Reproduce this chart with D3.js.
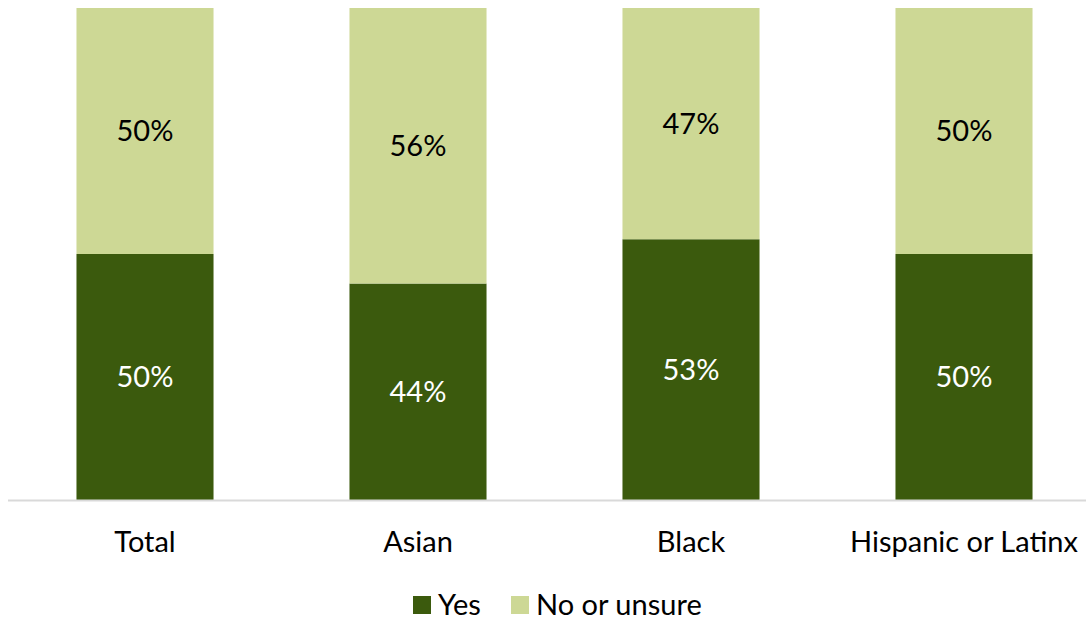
<!DOCTYPE html>
<html>
<head>
<meta charset="utf-8">
<script src="https://cdn.jsdelivr.net/npm/d3@7"></script>
<style>
  html, body { margin: 0; padding: 0; background: #fff; }
  svg text { font-family: Lato, "Open Sans", "Liberation Sans", sans-serif; }
</style>
</head>
<body>
<svg id="chart" width="1086" height="620"></svg>
<script>
// Survey responses by group (percent)
const categories = ["Total", "Asian", "Black", "Hispanic or Latinx"];
const yesValues = [50, 44, 53, 50];
const noValues = [50, 56, 47, 50];
const seriesNames = ["Yes", "No or unsure"];
const seriesColors = ["#3b5a0d", "#cdd895"];

const svg = d3.select("#chart");
const width = 1086;
const fontSize = 29;

const x = d3.scaleBand()
  .domain(categories)
  .range([8.5, 1100.5])
  .paddingInner(0.498)
  .paddingOuter(0.249);

const y = d3.scaleLinear().domain([0, 100]).range([500, 8]);

const rows = categories.map((c, i) => ({ cat: c, Yes: yesValues[i], "No or unsure": noValues[i] }));
const stacked = d3.stack().keys(seriesNames)(rows);

const layers = svg.selectAll("g.layer")
  .data(stacked)
  .join("g")
  .attr("class", "layer")
  .attr("fill", (d, i) => seriesColors[i]);

layers.selectAll("rect")
  .data(d => d)
  .join("rect")
  .attr("x", d => x(d.data.cat))
  .attr("width", x.bandwidth())
  .attr("y", d => y(d[1]))
  .attr("height", d => y(d[0]) - y(d[1]));

// Value labels centred in each segment
stacked.forEach((layer, li) => {
  svg.append("g").selectAll("text")
    .data(layer)
    .join("text")
    .attr("x", d => x(d.data.cat) + x.bandwidth() / 2)
    .attr("y", d => (y(d[0]) + y(d[1])) / 2)
    .attr("dy", "0.35em")
    .attr("text-anchor", "middle")
    .attr("font-size", fontSize)
    .attr("fill", li === 0 ? "#ffffff" : "#000000")
    .text(d => (d[1] - d[0]) + "%");
});

// Baseline
svg.append("line")
  .attr("x1", 8).attr("x2", width)
  .attr("y1", 500.5).attr("y2", 500.5)
  .attr("stroke", "#d9d9d9")
  .attr("stroke-width", 2);

// Category labels
const xAxis = d3.axisBottom(x).tickSize(0).tickPadding(0);
const gx = svg.append("g").attr("transform", "translate(0,500)").call(xAxis);
gx.select(".domain").remove();
gx.selectAll("text")
  .attr("font-size", fontSize)
  .attr("fill", "#000")
  .attr("y", 42)
  .attr("dy", "0.35em")
  .style("font-family", "Lato, 'Open Sans', 'Liberation Sans', sans-serif");

// Legend
const legend = svg.append("g").attr("transform", "translate(413,596)");
const legendOffsets = [0, 98];
seriesNames.forEach((name, i) => {
  const g = legend.append("g").attr("transform", `translate(${legendOffsets[i]},0)`);
  g.append("rect").attr("width", 18).attr("height", 18).attr("fill", seriesColors[i]);
  g.append("text")
    .attr("x", 25).attr("y", 9).attr("dy", "0.35em")
    .attr("font-size", fontSize).attr("fill", "#000")
    .text(name);
});
</script>
</body>
</html>
